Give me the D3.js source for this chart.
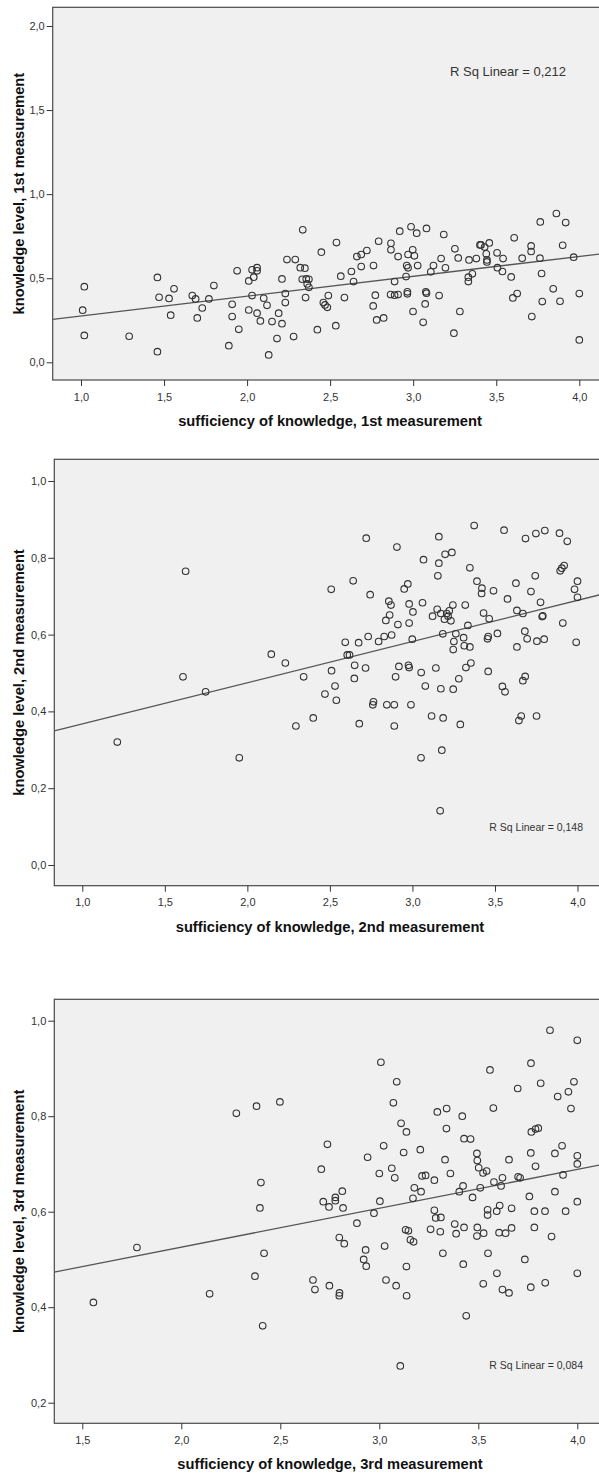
<!DOCTYPE html>
<html>
<head>
<meta charset="utf-8">
<script src="https://cdn.jsdelivr.net/npm/d3@7"></script>
<style>
  body { margin: 0; background: #fff; }
  text { font-family: "Liberation Sans", Arial, sans-serif; }
</style>
</head>
<body>
<script>

var width = 599,
    height = 1475;

// sufficiency of knowledge (x), knowledge level (y)
var points1 = [[1.02,0.45],[1.01,0.31],[1.02,0.16],[1.29,0.155],[1.46,0.505],[1.46,0.063],[1.47,0.387],[1.53,0.38],[1.56,0.437],[1.54,0.28],[1.67,0.397],[1.69,0.377],[1.70,0.264],[1.73,0.323],[1.77,0.377],[1.80,0.456],[1.89,0.099],[1.91,0.345],[1.91,0.272],[1.94,0.544],[1.95,0.196],[2.01,0.484],[2.01,0.311],[2.03,0.55],[2.04,0.506],[2.03,0.397],[2.06,0.544],[2.06,0.563],[2.06,0.292],[2.08,0.246],[2.10,0.381],[2.12,0.339],[2.13,0.044],[2.15,0.242],[2.18,0.141],[2.19,0.292],[2.21,0.496],[2.21,0.23],[2.23,0.409],[2.23,0.355],[2.24,0.611],[2.28,0.153],[2.29,0.611],[2.32,0.563],
  [2.335,0.788],[2.348,0.56],[2.332,0.494],[2.356,0.496],[2.372,0.494],[2.362,0.466],[2.372,0.446],[2.352,0.385],[2.423,0.194],[2.447,0.655],[2.459,0.355],[2.469,0.341],[2.483,0.327],[2.489,0.397],[2.534,0.218],[2.538,0.712],[2.564,0.512],[2.586,0.385],[2.628,0.54],[2.641,0.48],[2.661,0.629],[2.687,0.641],[2.687,0.569],[2.721,0.665],[2.761,0.575],[2.759,0.335],[2.772,0.399],[2.780,0.252],[2.792,0.72],[2.822,0.264],[2.866,0.708],[2.866,0.669],[2.864,0.403],[2.888,0.48],[2.888,0.399],[2.909,0.403],[2.909,0.629],[2.919,0.78],[2.957,0.51],[2.961,0.575],[2.969,0.641],[2.969,0.562],[2.965,0.419],[2.965,0.407],[2.987,0.806],[2.997,0.669],[3.007,0.633],[3.021,0.768],[3.027,0.575],[2.999,0.302],[3.060,0.238],[3.072,0.347],[3.080,0.796],[3.076,0.419],[3.080,0.411],[3.106,0.538],[3.122,0.575],[3.156,0.397],[3.168,0.617],[3.184,0.76],[3.194,0.562],[3.245,0.173],[3.251,0.675],[3.271,0.621],[3.281,0.302],[3.332,0.48],[3.332,0.506],[3.336,0.609],[3.356,0.526],[3.380,0.617],[3.402,0.698],[3.408,0.698],[3.430,0.685],[3.458,0.71],[3.440,0.645],[3.444,0.609],[3.444,0.597],[3.505,0.651],[3.507,0.563],[3.541,0.617],[3.537,0.54],[3.590,0.508],[3.608,0.74],[3.600,0.383],[3.626,0.409],[3.656,0.619],[3.710,0.692],[3.710,0.659],[3.714,0.272],[3.765,0.835],[3.763,0.619],[3.773,0.528],[3.777,0.361],[3.843,0.437],[3.862,0.885],[3.884,0.363],[3.900,0.696],[3.918,0.831],[3.966,0.625],[4.000,0.409],[4.000,0.133]];

var points2 = [[1.212,0.320],[1.610,0.490],[1.626,0.765],[1.747,0.451],[1.951,0.279],[2.145,0.549],[2.230,0.526],[2.294,0.362],[2.341,0.490],[2.399,0.383],[2.470,0.445],[2.510,0.506],[2.508,0.718],[2.531,0.466],[2.539,0.429],[2.593,0.580],[2.605,0.547],[2.619,0.547],[2.641,0.740],[2.650,0.520],[2.648,0.486],[2.674,0.579],[2.678,0.368],[2.716,0.513],[2.720,0.851],[2.732,0.595],[2.744,0.704],[2.764,0.425],[2.760,0.417],[2.795,0.582],[2.829,0.595],[2.839,0.637],[2.857,0.687],[2.862,0.651],[2.870,0.677],[2.874,0.599],[2.845,0.417],[2.890,0.417],[2.890,0.362],[2.898,0.490],[2.906,0.828],[2.912,0.626],[2.918,0.517],[2.950,0.719],[2.972,0.732],[2.976,0.520],[2.980,0.514],[2.980,0.630],[2.980,0.680],[2.991,0.417],[2.999,0.588],[3.003,0.659],[3.053,0.501],[3.061,0.683],[3.067,0.795],[3.078,0.466],[3.052,0.279],[3.116,0.388],[3.122,0.648],[3.142,0.513],[3.150,0.666],[3.154,0.753],[3.160,0.786],[3.160,0.855],[3.172,0.655],[3.172,0.459],[3.186,0.383],[3.168,0.141],[3.178,0.299],[3.184,0.602],[3.194,0.640],[3.198,0.809],[3.208,0.655],[3.216,0.648],[3.223,0.662],[3.233,0.636],[3.239,0.814],[3.245,0.677],[3.247,0.458],[3.251,0.582],[3.247,0.561],[3.263,0.602],[3.281,0.485],[3.290,0.366],[3.310,0.592],[3.314,0.571],[3.320,0.677],[3.324,0.514],[3.336,0.624],[3.348,0.774],[3.348,0.568],[3.354,0.526],[3.374,0.884],[3.391,0.739],[3.421,0.721],[3.419,0.707],[3.431,0.656],[3.455,0.589],[3.459,0.595],[3.465,0.641],[3.459,0.504],[3.491,0.714],[3.515,0.603],[3.545,0.465],[3.561,0.451],[3.555,0.872],[3.576,0.693],[3.627,0.734],[3.633,0.663],[3.633,0.568],[3.669,0.655],[3.681,0.609],[3.695,0.589],[3.683,0.491],[3.669,0.480],[3.659,0.388],[3.645,0.376],[3.685,0.850],[3.718,0.712],[3.744,0.753],[3.748,0.863],[3.754,0.583],[3.752,0.388],[3.776,0.684],[3.786,0.647],[3.790,0.649],[3.798,0.588],[3.802,0.871],[3.891,0.864],[3.895,0.766],[3.905,0.773],[3.919,0.780],[3.911,0.630],[3.938,0.843],[3.982,0.718],[4.000,0.739],[4.000,0.697],[3.992,0.580]];

var points3 = [[1.556,0.410],[1.776,0.525],[2.143,0.428],[2.278,0.806],[2.380,0.821],[2.498,0.830],[2.402,0.661],[2.397,0.608],[2.418,0.513],[2.372,0.465],[2.411,0.361],
  [2.665,0.457],[2.675,0.437],[2.707,0.689],[2.717,0.621],[2.738,0.741],[2.746,0.610],[2.748,0.445],[2.778,0.630],[2.778,0.623],[2.798,0.546],[2.799,0.430],[2.798,0.424],[2.813,0.643],[2.817,0.608],[2.823,0.533],[2.887,0.576],[2.921,0.500],[2.931,0.520],[2.934,0.486],[2.941,0.714],[2.973,0.597],[3.000,0.680],[3.003,0.622],[3.008,0.913],[3.022,0.738],[3.027,0.528],[3.034,0.457],[3.063,0.691],[3.071,0.828],[3.078,0.671],[3.085,0.445],[3.088,0.872],[3.106,0.277],[3.110,0.785],[3.123,0.724],[3.137,0.767],[3.137,0.485],[3.138,0.424],[3.133,0.562],[3.147,0.560],[3.157,0.541],[3.173,0.537],[3.170,0.628],[3.177,0.650],[3.207,0.730],[3.211,0.642],[3.216,0.675],[3.234,0.676],[3.259,0.563],[3.278,0.666],[3.278,0.603],[3.285,0.587],[3.293,0.809],[3.308,0.558],[3.311,0.588],[3.321,0.513],[3.332,0.709],[3.339,0.774],[3.340,0.816],[3.359,0.680],[3.381,0.574],[3.388,0.554],[3.404,0.642],[3.419,0.800],[3.423,0.654],[3.424,0.490],[3.428,0.567],[3.428,0.753],[3.439,0.382],[3.461,0.752],[3.471,0.630],[3.493,0.722],[3.495,0.707],[3.495,0.567],[3.493,0.549],[3.502,0.692],[3.510,0.650],[3.524,0.681],[3.525,0.449],[3.527,0.555],[3.542,0.685],[3.547,0.593],[3.547,0.604],[3.549,0.513],[3.559,0.897],[3.576,0.817],[3.579,0.662],[3.593,0.601],[3.594,0.471],[3.605,0.556],[3.608,0.613],[3.615,0.654],[3.622,0.671],[3.622,0.437],[3.638,0.555],[3.655,0.709],[3.655,0.430],[3.668,0.607],[3.668,0.566],[3.699,0.858],[3.701,0.673],[3.711,0.671],[3.735,0.500],[3.758,0.632],[3.765,0.723],[3.765,0.442],[3.766,0.911],[3.768,0.767],[3.783,0.601],[3.783,0.567],[3.789,0.695],[3.789,0.773],[3.803,0.775],[3.815,0.869],[3.837,0.601],[3.838,0.451],[3.862,0.980],[3.870,0.548],[3.887,0.722],[3.887,0.642],[3.901,0.841],[3.923,0.738],[3.928,0.677],[3.941,0.601],[3.955,0.851],[3.968,0.816],[3.983,0.872],[4.000,0.959],[4.000,0.717],[4.000,0.700],[4.000,0.621],[4.000,0.471]];

// linear fit: [intercept, slope]
var fit1 = [0.158, 0.1178],
    fit2 = [0.260, 0.1073],
    fit3 = [0.363, 0.0814];

var rsq = ["0,212", "0,148", "0,084"];

var xTicks1 = [1, 1.5, 2, 2.5, 3, 3.5, 4],
    xTicks2 = [1, 1.5, 2, 2.5, 3, 3.5, 4],
    xTicks3 = [1.5, 2, 2.5, 3, 3.5, 4];
var yTicks1 = [0, 0.5, 1, 1.5, 2],
    yTicks2 = [0, 0.2, 0.4, 0.6, 0.8, 1],
    yTicks3 = [0.2, 0.4, 0.6, 0.8, 1];

var xTitles = ["sufficiency of knowledge, 1st measurement",
               "sufficiency of knowledge, 2nd measurement",
               "sufficiency of knowledge, 3rd measurement"];
var yTitles = ["knowledge level, 1st measurement",
               "knowledge level, 2nd measurement",
               "knowledge level, 3rd measurement"];

// layout of each panel (pixels)
var panels = [
  {pts: points1, fit: fit1, xt: xTicks1, yt: yTicks1,
   left: 52.7, top: 7.3, bottom: 380,
   xd: [1, 4], xr: [81, 579.3], yd: [0, 2], yr: [362.3, 26],
   rsqX: 566, rsqY: 76, rsqSize: 13},
  {pts: points2, fit: fit2, xt: xTicks2, yt: yTicks2,
   left: 54.3, top: 459.3, bottom: 885.7,
   xd: [1, 4], xr: [82.3, 577.5], yd: [0, 1], yr: [865, 481],
   rsqX: 583, rsqY: 831, rsqSize: 10.5},
  {pts: points3, fit: fit3, xt: xTicks3, yt: yTicks3,
   left: 54.3, top: 999.3, bottom: 1423.3,
   xd: [1.5, 4], xr: [82.3, 577.3], yd: [0.2, 1], yr: [1402.7, 1020.7],
   rsqX: 583, rsqY: 1369, rsqSize: 10.5}
];

var rightEdge = 612;

var comma = function(d){ return d3.format(".1f")(d).replace(".", ","); };

var svg = d3.select("body").append("svg")
            .attr("width", width)
            .attr("height", height);

panels.forEach(function(p, i){
  var x = d3.scaleLinear().domain(p.xd).range(p.xr);
  var y = d3.scaleLinear().domain(p.yd).range(p.yr);

  var g = svg.append("g");

  svg.append("clipPath")
     .attr("id", "clip" + i)
     .append("rect")
     .attr("x", p.left).attr("y", p.top)
     .attr("width", rightEdge - p.left).attr("height", p.bottom - p.top);

  g.append("rect")
   .attr("x", p.left).attr("y", p.top)
   .attr("width", rightEdge - p.left).attr("height", p.bottom - p.top)
   .attr("fill", "#f0f0f0")
   .attr("stroke", "#4a4a4a")
   .attr("stroke-width", 1.2);

  // axes
  var yAxis = d3.axisLeft(y).tickValues(p.yt).tickSize(6).tickPadding(2).tickFormat(comma);
  var xAxis = d3.axisBottom(x).tickValues(p.xt).tickSize(6).tickPadding(7).tickFormat(comma);

  var ya = g.append("g")
            .attr("transform", "translate(" + p.left + ",0)")
            .call(yAxis);
  var xa = g.append("g")
            .attr("transform", "translate(0," + p.bottom + ")")
            .call(xAxis);

  [ya, xa].forEach(function(a){
    a.select(".domain").remove();
    a.selectAll("line").attr("stroke", "#333");
    a.selectAll("text")
     .attr("fill", "#333")
     .style("font-size", "11px")
     .style("font-family", "'Liberation Sans', Arial, sans-serif");
  });

  var plot = g.append("g").attr("clip-path", "url(#clip" + i + ")");

  // regression line
  var x0 = x.invert(p.left), x1 = x.invert(rightEdge);
  plot.append("line")
      .attr("x1", x(x0)).attr("y1", y(p.fit[0] + p.fit[1] * x0))
      .attr("x2", x(x1)).attr("y2", y(p.fit[0] + p.fit[1] * x1))
      .attr("stroke", "#555")
      .attr("stroke-width", 1.3);

  plot.selectAll("circle")
      .data(p.pts)
      .enter()
      .append("circle")
      .attr("cx", function(d){ return x(d[0]); })
      .attr("cy", function(d){ return y(d[1]); })
      .attr("r", 3.3)
      .attr("fill", "none")
      .attr("stroke", "#333")
      .attr("stroke-width", 1.1);

  g.append("text")
   .attr("x", p.rsqX).attr("y", p.rsqY)
   .attr("text-anchor", "end")
   .attr("fill", "#333")
   .style("font-size", p.rsqSize + "px")
   .text("R Sq Linear = " + rsq[i]);

  // axis titles
  g.append("text")
   .attr("x", 330).attr("y", p.bottom + 46)
   .attr("text-anchor", "middle")
   .attr("fill", "#111")
   .style("font-size", "14.7px")
   .style("font-weight", "bold")
   .text(xTitles[i]);

  g.append("text")
   .attr("transform", "translate(24," + ((p.top + p.bottom) / 2) + ") rotate(-90)")
   .attr("text-anchor", "middle")
   .attr("fill", "#111")
   .style("font-size", "14.7px")
   .style("font-weight", "bold")
   .text(yTitles[i]);
});

</script>
</body>
</html>
